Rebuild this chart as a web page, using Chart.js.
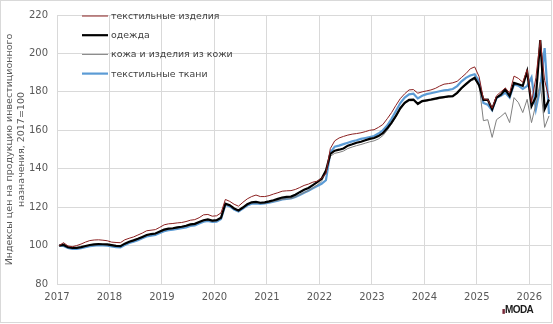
<!DOCTYPE html>
<html><head><meta charset="utf-8">
<script src="https://cdn.jsdelivr.net/npm/chart.js@4.4.1/dist/chart.umd.min.js"></script>
<style>
html,body{margin:0;padding:0;background:#fff;}
#wrap{position:relative;width:553px;height:324px;}
#logo{position:absolute;left:502px;top:305px;font:bold 10px "Liberation Sans Narrow","Liberation Sans",sans-serif;color:#1a1a1a;letter-spacing:-0.6px;line-height:10px;}
#logo span{color:#7a2a3a;font-size:6px;letter-spacing:0;}
</style></head>
<body>
<div id="wrap"><canvas id="c" width="553" height="324"></canvas><div id="logo"><span>▮</span>MODA</div></div>
<script>
// Monthly observations, Jan 2017 – May 2026 (index, 2017=100)
const firstYear = 2017, lastYear = 2026, lastMonth = 5;
const months = [];
for (let y = firstYear; y <= lastYear; y++) {
  for (let m = 1; m <= 12; m++) {
    if (y === lastYear && m > lastMonth) break;
    months.push(y + '-' + String(m).padStart(2, '0'));
  }
}

const seriesNames = ['текстильные изделия', 'одежда', 'кожа и изделия из кожи', 'текстильные ткани'];

const textileProducts = [
  100, 101.5, 99.8, 99.4, 100, 100.8, 101.8, 102.6, 102.9, 103, 102.8, 102.5,
  101.8, 101.6, 101.5, 103, 103.8, 104.5, 105.5, 106.5, 107.7, 108, 108.3, 109.5,
  110.8, 111.3, 111.5, 111.8, 112, 112.5, 113.2, 113.5, 114.5, 116, 116.2, 115.3,
  115.5, 117, 124, 123, 121.5, 120.5, 122.5, 124.3, 125.5, 126.3, 125.5, 125.5,
  126, 126.8, 127.5, 128.3, 128.5, 128.6, 129.2, 130.2, 131.3, 132, 133, 133.5,
  135, 137.5, 150.5, 154.5, 156, 156.8, 157.5, 158, 158.3, 158.7, 159.3, 160,
  160.3, 161.5, 163, 166, 169.2, 173, 176.5, 179, 181, 181.2, 179.3, 180,
  180.5, 181, 181.8, 183, 184, 184.3, 184.7, 185.5, 187.5, 189.5, 192, 193,
  188, 176.3, 176, 171.5, 178, 180, 182, 179.5, 188.2, 187, 185, 191.6,
  174.4, 187.3, 207, 186, 176.5
];
const clothing = [
  100, 100.3, 99.2, 98.8, 98.8, 99.2, 99.8, 100.3, 100.6, 100.8, 100.7, 100.6,
  100.2, 99.8, 99.7, 101, 102, 102.7, 103.5, 104.5, 105.5, 106, 106.3, 107.3,
  108.3, 108.8, 109, 109.5, 109.8, 110.3, 111, 111.3, 112.3, 113.2, 113.6, 113,
  113.2, 114.5, 121.8, 121, 119.3, 118.3, 119.8, 121.5, 122.5, 122.7, 122.3, 122.5,
  123, 123.6, 124.3, 125, 125.3, 125.5, 126.5, 127.8, 129, 130, 131.5, 133,
  134.8, 139, 147.7, 149.4, 149.9, 150.5, 152, 152.7, 153.5, 154, 154.8, 155.5,
  156, 157, 158.5, 161, 164, 167.5, 171.5, 174.3, 175.8, 176, 173.8, 175.2,
  175.6, 176, 176.5, 177, 177.3, 177.6, 177.8, 179.5, 182, 184, 186, 187.3,
  183.5, 175.8, 175.9, 171, 177, 178.5, 181.3, 177.8, 184.7, 184, 183.2, 190.7,
  172.6, 177.5, 207, 171, 176
];
const leather = [
  100, 101.2, 99.3, 98.8, 98.8, 99.1, 99.6, 100.1, 100.4, 100.6, 100.5, 100.4,
  100, 99.7, 99.6, 100.8, 101.8, 102.5, 103.3, 104.3, 105.2, 105.8, 106.1, 107,
  108, 108.5, 108.8, 109.2, 109.5, 110, 110.7, 111, 112, 112.8, 113.2, 112.7,
  112.9, 114.2, 121.5, 120.8, 119, 118, 119.5, 121.2, 122.2, 122.4, 122, 122.2,
  122.5, 123, 123.5, 124, 124.3, 124.5, 125.3, 126.5, 127.6, 128.6, 130, 131.5,
  133.5, 138, 146.5, 148, 148.5, 149.2, 150.5, 151.3, 152, 152.6, 153.3, 154,
  154.5, 155.5, 157.2, 160, 163.3, 167, 171, 173.8, 175.3, 175.4, 173.2, 174.8,
  175.2, 175.6, 176, 176.5, 177, 177.3, 177.5, 179.2, 181.5, 183.5, 185.5, 186.5,
  183.9, 165, 165.5, 156.3, 165.5, 167.2, 169.2, 164, 177, 174.4, 169.2, 176.1,
  164, 173.5, 185, 161.5, 167.5
];
const fabrics = [
  100, 99.8, 98.8, 98.3, 98.3, 98.7, 99.2, 99.7, 100, 100.2, 100.1, 100,
  99.6, 99.2, 99.1, 100.3, 101.3, 102, 102.8, 103.8, 104.7, 105.2, 105.5, 106.5,
  107.5, 108, 108.3, 108.7, 109, 109.5, 110.2, 110.5, 111.5, 112.4, 112.8, 112.3,
  112.4, 113.8, 121.2, 120.4, 118.7, 117.7, 119.2, 120.8, 121.8, 122, 121.7, 121.9,
  122.3, 122.8, 123.4, 124, 124.3, 124.5, 125.3, 126.3, 127.5, 128.5, 129.8, 131,
  132.2, 134, 148.5, 151.5, 152, 152.8, 153.5, 154.2, 154.8, 155.5, 156, 156.5,
  157, 158.3, 160, 162.5, 166, 170, 174.2, 177, 178.7, 179, 176.6, 178,
  178.8, 179.3, 179.8, 180.3, 180.8, 181, 181.5, 183, 185.5, 187.3, 188.5, 189.2,
  185.6, 174.2, 173.3, 170.4, 177, 178, 179.5, 177, 183.9, 183.2, 181.5, 183,
  187.5, 171, 182, 202.8, 168.5
];

const yTicks = [80, 100, 120, 140, 160, 180, 200, 220];
const xYears = [2017, 2018, 2019, 2020, 2021, 2022, 2023, 2024, 2025, 2026];
const yTitle = ['Индексы цен на продукцию инвестиционного', 'назначения, 2017=100'];

// month label -> position on a time axis (middle of the month, in years)
const toX = s => { const [y, m] = s.split('-').map(Number); return y + (m - 0.5) / 12; };
const pts = arr => arr.map((v, i) => ({ x: toX(months[i]), y: v }));

const colors = ['#8b2020', '#000000', '#808080', '#5b9bd5'];
const widths = [1, 2.2, 1, 2.2];
const drawOrder = [0, 1, 2, 3];
const allSeries = [textileProducts, clothing, leather, fabrics];

const FONT = '"DejaVu Sans", Verdana, sans-serif';

const legendPlugin = {
  id: 'insideLegend',
  afterDatasetsDraw(chart) {
    const ctx = chart.ctx;
    ctx.save();
    chart.data.datasets.forEach((ds, i) => {
      const y = 16 + i * 19.2;
      ctx.beginPath();
      ctx.strokeStyle = ds.borderColor;
      ctx.lineWidth = ds.borderWidth;
      ctx.moveTo(82, y); ctx.lineTo(108, y);
      ctx.stroke();
      ctx.fillStyle = '#404040';
      ctx.font = '9.4px ' + FONT;
      ctx.textBaseline = 'middle';
      ctx.textAlign = 'left';
      ctx.fillText(ds.label, 111, y + 0.5);
    });
    ctx.restore();
  }
};
const framePlugin = {
  id: 'frame',
  afterDraw(chart) {
    const ctx = chart.ctx;
    ctx.save();
    ctx.strokeStyle = '#d9d9d9';
    ctx.lineWidth = 1;
    ctx.strokeRect(0.5, 0.5, 551, 322);
    ctx.restore();
  }
};

new Chart(document.getElementById('c'), {
  type: 'line',
  data: {
    datasets: allSeries.map((arr, i) => ({
      label: seriesNames[i],
      data: pts(arr),
      borderColor: colors[i],
      backgroundColor: colors[i],
      borderWidth: widths[i],
      pointRadius: 0,
      tension: 0,
      order: drawOrder[i]
    }))
  },
  options: {
    responsive: false,
    animation: false,
    layout: { padding: { left: 0, top: 13, right: 2, bottom: 0 } },
    plugins: { legend: { display: false }, tooltip: { enabled: false } },
    scales: {
      x: {
        type: 'linear',
        min: xYears[0],
        max: 2026.413,
        afterBuildTicks: s => { s.ticks = xYears.map(v => ({ value: v })); },
        afterFit: s => { s.height = 40; },
        grid: { color: '#d9d9d9', drawTicks: false, lineWidth: 1 },
        border: { color: '#d9d9d9' },
        ticks: { padding: 7, color: '#595959', font: { family: FONT, size: 10 }, maxRotation: 0, callback: v => String(v) }
      },
      y: {
        min: yTicks[0],
        max: yTicks[yTicks.length - 1],
        afterBuildTicks: s => { s.ticks = yTicks.map(v => ({ value: v })); },
        afterFit: s => { s.width = 57; },
        grid: { color: '#d9d9d9', drawTicks: false, lineWidth: 1 },
        border: { color: '#d9d9d9' },
        ticks: { padding: 9, color: '#595959', font: { family: FONT, size: 10 } },
        title: { display: true, text: yTitle, color: '#595959', font: { family: FONT, size: 9.5, lineHeight: 1.3 }, padding: { top: 3, bottom: 0 } }
      }
    }
  },
  plugins: [legendPlugin, framePlugin]
});
</script>
</body></html>
